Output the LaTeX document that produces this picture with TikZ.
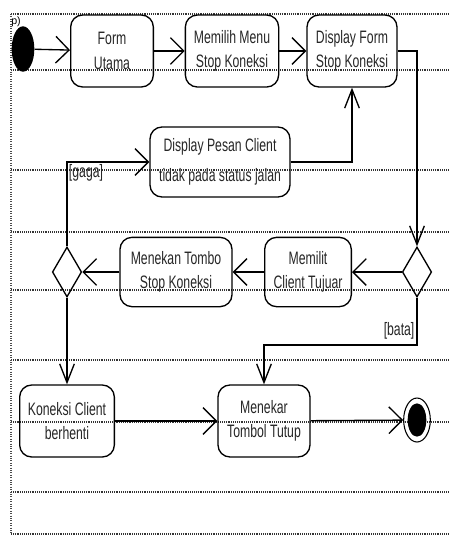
\documentclass[tikz,border=0pt]{standalone}
\usepackage{fontspec}
\setmainfont{Liberation Sans}
\newfontfamily\lanefont[FakeStretch=0.68]{Liberation Sans}
\usetikzlibrary{shapes.geometric}
\usetikzlibrary{arrows.meta}

\begin{document}
\begin{tikzpicture}[x=0.75pt, y=-0.75pt,
    act/.style={draw, line width=1pt, rounded corners=9pt, align=center, inner sep=0pt,
        minimum height=54pt, text=black!85, font=\lanefont\fontsize{13.5}{18.5}\selectfont},
    choice/.style={draw, line width=1pt, diamond, inner sep=0pt, minimum width=22pt, minimum height=37.5pt},
    flow/.style={line width=1pt, -{Straight Barb[length=10pt,width=20pt]}},
    drop/.style={line width=1pt, -{Straight Barb[length=14pt,width=11pt]}},
    lane/.style={black!80, line width=2.2pt, dash pattern=on 0.7pt off 0.7pt},
    guard/.style={inner sep=1pt, text=black!85, font=\lanefont\fontsize{13.5}{15}\selectfont}]

    \useasboundingbox (0,0) rectangle (449,551);

    % Swimlane rules
    \foreach \y in {14,70,170,232,290,360,422,492,534}
        \draw[lane] (11,\y) -- (449,\y);
    \draw[black!70, line width=0.8pt, densely dotted] (11,14) -- (11,534);

    % Start and end
    \node[ellipse, fill=black, inner sep=0pt, minimum width=17pt, minimum height=34pt] (start) at (23,49) {};
    \node[inner sep=0pt, font=\fontsize{8}{8}\selectfont] (tag) at (16,22) {p)};
    \node[ellipse, draw, line width=0.8pt, inner sep=0pt, minimum width=20pt, minimum height=33pt] (stop) at (417,420) {};
    \node[ellipse, fill=black, inner sep=0pt, minimum width=14pt, minimum height=25pt] (stopin) at (stop.center) {};

    % Actions
    \node[act, minimum width=62pt] (utama) at (112,51) {Form\\Utama};
    \node[act, minimum width=70pt] (pilih) at (232,51) {Memilih Menu\\Stop Koneksi};
    \node[act, minimum width=67.5pt] (tampil) at (352,51) {Display Form\\Stop Koneksi};
    \node[act, minimum width=105pt, minimum height=52.5pt, font=\lanefont\fontsize{13.5}{23}\selectfont] (pesan) at (220,162) {Display Pesan Client\\tidak pada status jalan};
    \node[act, minimum width=84pt, minimum height=52pt] (tekan) at (176,272) {Menekan Tombo\\Stop Koneksi};
    \node[act, minimum width=65pt, minimum height=52pt] (klien) at (308,272) {Memilit\\Client Tujuar};
    \node[act, minimum width=71pt] (henti) at (67,421) {Koneksi Client\\berhenti};
    \node[act, minimum width=69pt] (tutup) at (264,421) {Menekar\\Tombol Tutup};

    % Decisions
    \node[choice] (cek) at (417,272) {};
    \node[choice] (hasil) at (67,272) {};

    % Flows
    \draw[flow] (start) -- (utama);
    \draw[flow] (utama) -- (pilih);
    \draw[flow] (pilih) -- (tampil);
    \draw[drop] (tampil.east) -| (cek.north);
    \draw[flow] (cek) -- (klien);
    \draw[flow] (klien) -- (tekan);
    \draw[flow] (tekan) -- (hasil);
    \draw[flow] (hasil.north) |- node[guard, pos=0.5, anchor=north west] (gagal) {[gaga]} (pesan.west);
    \draw[drop] (pesan.east) -| (tampil.south);
    \draw[drop] (hasil.south) -- (henti.north);

    \coordinate (belok) at (264,345);
    \draw[drop] (cek.south) |- (belok) -- (tutup.north);
    \node[guard, anchor=south east] (batal) at (416,341) {[bata]};

    \draw[flow] (henti) -- (tutup);
    \draw[flow] (tutup) -- (stop);

\end{tikzpicture}
\end{document}
